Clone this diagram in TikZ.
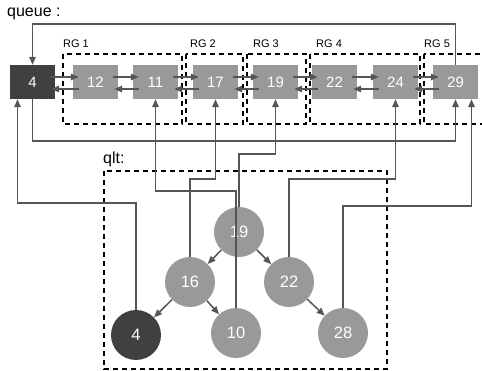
\documentclass[tikz,border=0pt]{standalone}
\usepackage{fontspec}
\setmainfont{Liberation Sans}
\usetikzlibrary{arrows.meta}
\definecolor{boxgray}{HTML}{999999}
\definecolor{boxdark}{HTML}{404040}
\definecolor{linegray}{HTML}{555555}

\begin{document}
\begin{tikzpicture}[x=1pt, y=-1pt,
    qbox/.style={fill=boxgray, minimum width=45pt, minimum height=34pt, inner sep=0pt, text=white, font=\fontsize{15}{15}\selectfont},
    qdark/.style={qbox, fill=boxdark},
    tnode/.style={circle, fill=boxgray, minimum size=50pt, inner sep=0pt, text=white, font=\fontsize{16.5}{16.5}\selectfont},
    tdark/.style={tnode, fill=boxdark},
    link/.style={draw=linegray, line width=1.5pt},
    tip/.style={-{Triangle[length=8pt,width=6.5pt]}},
    grp/.style={draw=black, line width=1.2pt, dash pattern=on 5pt off 4pt},
    lbl/.style={anchor=base west, inner sep=0pt}]
        % \draw[help lines, gray!50, very thin] (0,0) grid[step=20] (482,371);
        \useasboundingbox (0,0) rectangle (482,371);

        \node[lbl, font=\fontsize{16}{16}\selectfont] (qlabel) at (7,17) {queue :};
        \node[lbl, font=\fontsize{16}{16}\selectfont] (tlabel) at (103,164) {qlt:};

        \draw[grp] (63,54) rectangle (182,124);
        \draw[grp] (186,54) rectangle (243,124);
        \draw[grp] (247,54) rectangle (306,124);
        \draw[grp] (310,54) rectangle (420,124);
        \draw[grp] (424,54) rectangle (490,124);
        \node[lbl, font=\fontsize{11}{11}\selectfont] (rg1) at (63,48) {RG 1};
        \node[lbl, font=\fontsize{11}{11}\selectfont] (rg2) at (190,48) {RG 2};
        \node[lbl, font=\fontsize{11}{11}\selectfont] (rg3) at (253,48) {RG 3};
        \node[lbl, font=\fontsize{11}{11}\selectfont] (rg4) at (316,48) {RG 4};
        \node[lbl, font=\fontsize{11}{11}\selectfont] (rg5) at (424,48) {RG 5};

        \draw[grp] (104,171) rectangle (387,369);

        % queue
        \node[qdark] (q4) at (32.5,82) {4};
        \foreach \v/\x in {12/95.5, 11/155.5, 17/215.5, 19/275.5, 22/334.5, 24/395.5, 29/455.5}
            \node[qbox] (q\v) at (\x,82) {\v};
        \foreach \a/\b in {4/12, 12/11, 11/17, 17/19, 19/22, 22/24, 24/29} {
            \draw[link, tip] ([xshift=-5pt, yshift=5pt]q\a.east) -- ([xshift=6pt, yshift=5pt]q\b.west);
            \draw[link, tip] ([xshift=6pt, yshift=-7pt]q\b.west) -- ([xshift=-4pt, yshift=-7pt]q\a.east);
        }
        \draw[link, tip] (q29.north) -- ++(0,-41) -| (q4.north);
        \draw[link, tip] (q4.south) -- ++(0,42) -| (q29.south);

        % qlt
        \node[tnode] (t19) at (239,232) {19};
        \node[tnode] (t16) at (190,282) {16};
        \node[tnode] (t22) at (289,282) {22};
        \node[tdark] (t4) at (136,335) {4};
        \node[tnode] (t10) at (236,333) {10};
        \node[tnode] (t28) at (343,333) {28};
        \foreach \a/\b in {19/16, 19/22, 16/4, 16/10, 22/28}
            \draw[link, tip] (t\a) -- (t\b);

        \draw[link, tip] (t4.north) -- ++(0,-107) -| ([xshift=-15pt]q4.south);
        \draw[link, tip] (t10.north) -- ++(0,-117) -| (q11.south);
        \draw[link, tip] (t16.north) -- ++(0,-78) -| (q17.south);
        \draw[link, tip] (t19.north) -- ++(0,-53) -| (q19.south);
        \draw[link, tip] (t22.north) -- ++(0,-78) -| (q24.south);
        \draw[link, tip] (t28.north) -- ++(0,-102) -| ([xshift=16pt]q29.south);
      \end{tikzpicture}
\end{document}
